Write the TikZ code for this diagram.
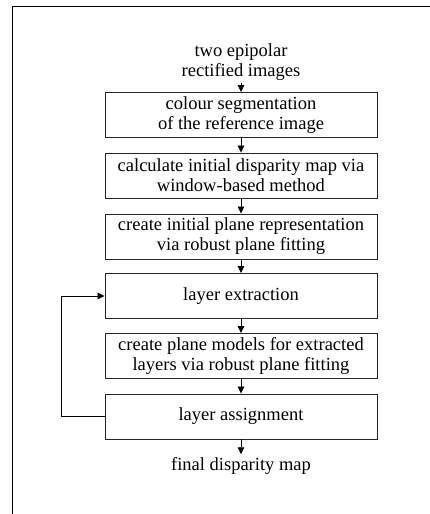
\documentclass[tikz,border=0pt]{standalone}
\usepackage{fontspec}
\setmainfont{Liberation Serif}
\usetikzlibrary{arrows.meta}
\begin{document}
\begin{tikzpicture}[x=1pt,y=1pt,
  every node/.style={font=\fontsize{18.5}{20}\selectfont, align=center},
  stepbox/.style={draw=black!85, line width=0.9pt, minimum width=272pt, minimum height=45pt, inner sep=0pt},
  plain/.style={inner sep=2pt},
  conn/.style={line width=0.8pt, -{Triangle[length=7pt,width=6.5pt]}},
  line/.style={line width=0.8pt}]
\useasboundingbox (0,0) rectangle (430,514);
\draw[line width=1.1pt] (12.5,0) -- (12.5,507.5) -- (430,507.5);
\node[plain] (in) at (241,452) {two epipolar\\rectified images};
\node[stepbox] (b1) at (241,399) {colour segmentation\\of the reference image};
\node[stepbox] (b2) at (241,338.5) {calculate initial disparity map via\\window-based method};
\node[stepbox] (b3) at (241,277.5) {create initial plane representation\\via robust plane fitting};
\node[stepbox] (b4) at (241,218) {layer extraction};
\node[stepbox] (b5) at (241,158) {create plane models for extracted\\layers via robust plane fitting};
\node[stepbox] (b6) at (241,97.5) {layer assignment};
\node[plain, inner sep=3pt] (out) at (241,48) {final disparity map};
\coordinate (lb) at (61.5,97.5);
\coordinate (lt) at (61.5,218);
\draw[conn] (in.south) -- (b1.north);
\draw[conn] (b1) -- (b2);
\draw[conn] (b2) -- (b3);
\draw[conn] (b3) -- (b4);
\draw[conn] (b4) -- (b5);
\draw[conn] (b5) -- (b6);
\draw[conn] (b6.south) -- (out.north);
\draw[conn] (b6.west) -- (lb) -- (lt) -- (b4.west);
\end{tikzpicture}
\end{document}
